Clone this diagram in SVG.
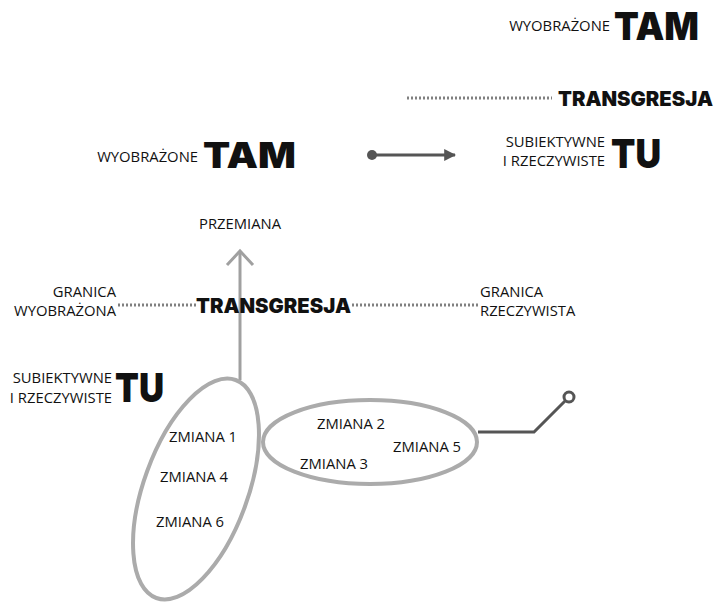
<svg xmlns="http://www.w3.org/2000/svg" width="717" height="603" viewBox="0 0 717 603">
<style>
.s{font-family:"Open Sans","Liberation Sans",sans-serif;font-size:14.8px;fill:#111}
.b{font-family:Inter,"DejaVu Sans",sans-serif;font-weight:900;fill:#111}
.dot{stroke:#808080;stroke-width:3;stroke-dasharray:2 2;fill:none}
.ell{fill:none;stroke:#ababab;stroke-width:4}
.dk{stroke:#555;stroke-width:3;fill:none}
</style>
<defs>
<marker id="ah" viewBox="0 0 10 10" refX="9" refY="5" markerWidth="4" markerHeight="4" orient="auto"><path d="M0,0 L10,5 L0,10 z" fill="#555"/></marker>
</defs>
<rect width="717" height="603" fill="#fff"/>
<g id="top-tam">
<text class="s" x="610" y="31" text-anchor="end">WYOBRAŻONE</text>
<text class="b" x="614" y="40" font-size="39" textLength="85" lengthAdjust="spacingAndGlyphs">TAM</text>
</g>
<g id="top-transgresja">
<text class="b" x="558" y="106" font-size="20" textLength="155" lengthAdjust="spacingAndGlyphs">TRANSGRESJA</text>
</g>
<g id="mid-tam">
<text class="s" x="198" y="162" text-anchor="end">WYOBRAŻONE</text>
<text class="b" x="203" y="168" font-size="35" textLength="93" lengthAdjust="spacingAndGlyphs">TAM</text>
</g>
<g id="mid-tu">
<text class="s" x="605" y="147" text-anchor="end">SUBIEKTYWNE</text>
<text class="s" x="605" y="166" text-anchor="end">I RZECZYWISTE</text>
<text class="b" x="611" y="168" font-size="40" textLength="50" lengthAdjust="spacingAndGlyphs">TU</text>
</g>
<g id="przemiana">
<text class="s" x="240" y="229" text-anchor="middle">PRZEMIANA</text>
</g>
<g id="granica-wyobrazona">
<text class="s" x="116" y="297" text-anchor="end">GRANICA</text>
<text class="s" x="116" y="316" text-anchor="end">WYOBRAŻONA</text>
</g>
<g id="granica-rzeczywista">
<text class="s" x="480" y="297">GRANICA</text>
<text class="s" x="480" y="316">RZECZYWISTA</text>
</g>
<g id="connectors">
<line class="dot" x1="407" y1="98" x2="552" y2="98"/>
<line class="dot" x1="118" y1="305" x2="196" y2="305"/>
<line class="dot" x1="352" y1="305" x2="478" y2="305"/>
<circle cx="372" cy="155" r="5" fill="#555"/>
<line x1="372" y1="155" x2="455" y2="155" stroke="#555" stroke-width="3" marker-end="url(#ah)"/>
<line x1="240" y1="380" x2="240" y2="251" stroke="#a0a0a0" stroke-width="3"/>
<polyline points="227,265 240,251 253,265" fill="none" stroke="#a0a0a0" stroke-width="3"/>
<polyline class="dk" points="478,432 534,432 565,401"/>
<circle cx="569" cy="397" r="5" fill="#fff" stroke="#555" stroke-width="3"/>
</g>
<g id="mid-transgresja">
<text class="b" x="196" y="313" font-size="20" textLength="155" lengthAdjust="spacingAndGlyphs">TRANSGRESJA</text>
</g>
<g id="left-tu">
<text class="s" x="112" y="383" text-anchor="end">SUBIEKTYWNE</text>
<text class="s" x="112" y="403" text-anchor="end">I RZECZYWISTE</text>
<text class="b" x="115" y="402" font-size="40" textLength="49" lengthAdjust="spacingAndGlyphs">TU</text>
</g>
<g id="group-left">
<ellipse class="ell" cx="196" cy="489" rx="52" ry="116" transform="rotate(20 196 489)"/>
<text class="s" x="169" y="442">ZMIANA 1</text>
<text class="s" x="160" y="482">ZMIANA 4</text>
<text class="s" x="156" y="527">ZMIANA 6</text>
</g>
<g id="group-right">
<ellipse class="ell" cx="370" cy="442" rx="107" ry="42"/>
<text class="s" x="317" y="429">ZMIANA 2</text>
<text class="s" x="393" y="452">ZMIANA 5</text>
<text class="s" x="300" y="469">ZMIANA 3</text>
</g>
</svg>
